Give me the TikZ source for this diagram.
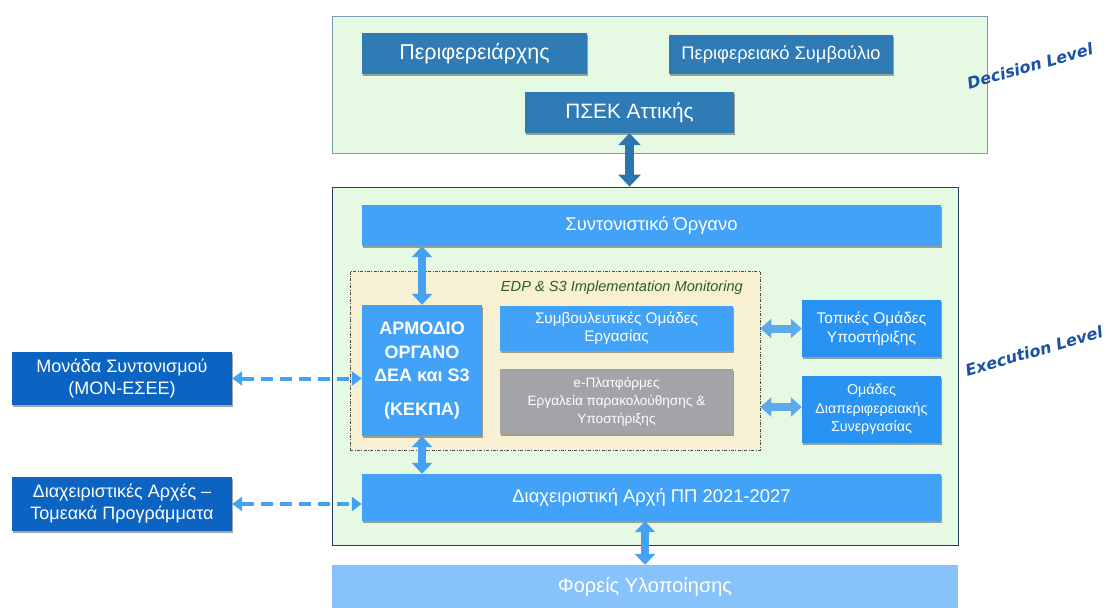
\documentclass[tikz,border=0pt]{standalone}
\usepackage{fontspec}
\setmainfont{Liberation Sans}
\newfontfamily\levelfont{DejaVu Sans}
\usetikzlibrary{arrows.meta,shadows}
\definecolor{levelgreen}{HTML}{E6FAE3}
\definecolor{decborder}{HTML}{7E9CB3}
\definecolor{exeborder}{HTML}{223F63}
\definecolor{steelbox}{HTML}{2E7BB6}
\definecolor{brightbox}{HTML}{42A2F7}
\definecolor{sidebox}{HTML}{2893F3}
\definecolor{graybox}{HTML}{A2A4A7}
\definecolor{beige}{HTML}{F7F0D3}
\definecolor{navybox}{HTML}{0B64C1}
\definecolor{palebox}{HTML}{87C2FA}
\definecolor{steelarrow}{HTML}{2C75AE}
\definecolor{brightarrow}{HTML}{46A1F2}
\definecolor{sidearrow}{HTML}{5EA9EC}
\definecolor{edpgreen}{HTML}{2E5E22}
\definecolor{levelblue}{HTML}{1A52A6}
\begin{document}
\begin{tikzpicture}[x=1pt,y=-1pt,
  every node/.style={inner sep=2pt, align=center, text=white},
  panel/.style={draw, line width=0.8pt, fill=levelgreen},
  boxbase/.style={draw=none, drop shadow={shadow xshift=0.5pt, shadow yshift=-2pt, opacity=0.35, fill=black}},
  steel/.style={boxbase, fill=steelbox},
  bright/.style={boxbase, fill=brightbox},
  side/.style={boxbase, fill=sidebox},
  grey/.style={boxbase, fill=graybox},
  navy/.style={boxbase, fill=navybox},
  pale/.style={draw=none, fill=palebox},
  bigarrow/.style={line width=9pt, color=steelarrow, {Triangle[width=22pt,length=12pt]}-{Triangle[width=22pt,length=12pt]}},
  midarrow/.style={line width=8pt, color=brightarrow, {Triangle[width=20pt,length=11pt]}-{Triangle[width=20pt,length=11pt]}},
  sidedouble/.style={line width=8pt, color=sidearrow, {Triangle[width=19pt,length=11pt]}-{Triangle[width=19pt,length=11pt]}},
  dasharrow/.style={line width=4pt, color=brightarrow, dash pattern=on 12pt off 7pt, {Triangle[width=14pt,length=10pt]}-{Triangle[width=14pt,length=10pt]}},
  levellabel/.style={text=levelblue, font=\levelfont\fontsize{16}{18}\selectfont\bfseries\itshape, rotate=16}
]
\useasboundingbox (0,0) rectangle (1109,608);
\fill[white] (0,0) rectangle (1109,608);

% panels
\node[panel, draw=decborder, minimum width=655pt, minimum height=137pt] (dec) at (659.5,84.5) {};
\node[panel, draw=exeborder, minimum width=626pt, minimum height=358pt] (exe) at (645,366) {};
\node[draw=black!70, dash pattern=on 3pt off 1.5pt on 0.8pt off 1.5pt, line width=0.7pt, fill=beige, minimum width=410pt, minimum height=179pt] (edp) at (555,360.5) {};
\node[anchor=east, text=edpgreen, font=\fontsize{14.6}{17}\selectfont\itshape] (edplbl) at (745,288) {EDP \& S3 Implementation Monitoring};

% decision level boxes
\node[steel, minimum width=225pt, minimum height=41pt, font=\fontsize{21.5}{25}\selectfont] (perif) at (474.5,53.5) {Περιφερειάρχης};
\node[steel, minimum width=224pt, minimum height=39pt, font=\fontsize{18.3}{21}\selectfont] (symv) at (781,54.5) {Περιφερειακό Συμβούλιο};
\node[steel, minimum width=209pt, minimum height=41pt, font=\fontsize{20.8}{24}\selectfont] (psek) at (629.5,112.5) {ΠΣΕΚ Αττικής};

% execution level boxes
\node[bright, minimum width=579pt, minimum height=41pt, font=\fontsize{18.4}{21}\selectfont] (synt) at (651.5,225.5) {Συντονιστικό Όργανο};
\node[bright, minimum width=120pt, minimum height=131pt, font=\fontsize{18}{23.5}\selectfont\bfseries] (armo) at (422,370.5) {ΑΡΜΟΔΙΟ\\ΟΡΓΑΝΟ\\ΔΕΑ και S3\\[10pt](ΚΕΚΠΑ)};
\node[bright, minimum width=233pt, minimum height=45pt, font=\fontsize{15.3}{18}\selectfont] (symb) at (616.5,328.5) {Συμβουλευτικές Ομάδες\\Εργασίας};
\node[grey, minimum width=233pt, minimum height=65pt, font=\fontsize{13.6}{18}\selectfont] (eplat) at (616.5,401.5) {e-Πλατφόρμες\\Εργαλεία παρακολούθησης \&\\Υποστήριξης};
\node[side, minimum width=139pt, minimum height=57pt, font=\fontsize{15.5}{19}\selectfont] (topik) at (871.5,328.5) {Τοπικές Ομάδες\\Υποστήριξης};
\node[side, minimum width=139pt, minimum height=67pt, font=\fontsize{14.3}{18.5}\selectfont] (diap) at (871.5,409.5) {Ομάδες\\Διαπεριφερειακής\\Συνεργασίας};
\node[bright, minimum width=579pt, minimum height=47pt, font=\fontsize{18.4}{21}\selectfont] (diax) at (651.5,497.5) {Διαχειριστική Αρχή ΠΠ 2021-2027};
\node[pale, minimum width=626pt, minimum height=44pt, font=\fontsize{20}{23}\selectfont] (fore) at (645,587) {Φορείς Υλοποίησης};

% outside boxes
\node[navy, minimum width=220pt, minimum height=53pt, font=\fontsize{18}{22}\selectfont] (mona) at (122,378.5) {Μονάδα Συντονισμού\\(ΜΟΝ-ΕΣΕΕ)};
\node[navy, minimum width=220pt, minimum height=54pt, font=\fontsize{18}{22}\selectfont] (diar) at (122,504) {Διαχειριστικές Αρχές –\\Τομεακά Προγράμματα};

% level labels
\node[levellabel] (declbl) at (1030,66) {Decision Level};
\node[levellabel] (exelbl) at (1034,351) {Execution Level};

% connectors
\draw[bigarrow] (psek.south) -- (psek.south |- exe.north);
\draw[midarrow] (armo.north) -- (armo.north |- synt.south);
\draw[midarrow] (armo.south) -- (armo.south |- diax.north);
\draw[midarrow] (fore.north) -- (fore.north |- diax.south);
\draw[sidedouble] (topik.west) -- (topik.west -| edp.east);
\draw[sidedouble] (diap.west |- 0,407) -- (edp.east |- 0,407);
\draw[dasharrow] (mona.east) -- (mona.east -| armo.west);
\draw[dasharrow] (diar.east) -- (diar.east -| diax.west);
\end{tikzpicture}
\end{document}
